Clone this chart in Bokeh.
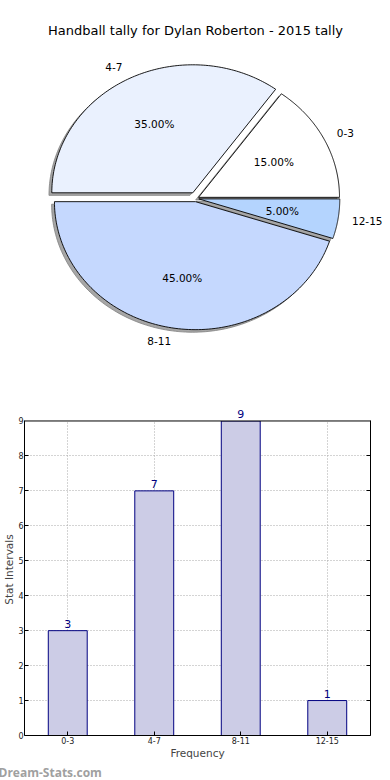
import numpy as np
from bokeh.plotting import figure
from bokeh.models import (Range1d, Label, LabelSet, ColumnDataSource, FactorRange,
                          LinearAxis, FixedTicker, Span, BoxAnnotation, Title)
from bokeh.embed import file_html
from bokeh.resources import INLINE
from bokeh.core.properties import value

# ---------------- data ----------------
chart_title = "Handball tally for Dylan Roberton - 2015 tally"
categories = ["0-3", "4-7", "8-11", "12-15"]
counts = [3, 7, 9, 1]
y_ticks = [0, 1, 2, 3, 4, 5, 6, 7, 8, 9]
y_max = 9
x_label = "Frequency"
y_label = "Stat Intervals"
watermark = "Dream-Stats.com"

# ---------------- styles ----------------
pie_colors = ["#ffffff", "#eaf1fe", "#c5d8fe", "#b4d4fe"]
explode = [0.02, 0.05, 0.025, 0.02]
FONT = "DejaVu Sans"

W = 388
PIE_H = 376
BAR_H = 404
CX, CY = 195.5, 198.0     # pie centre, pixels
RX, RY = 141.0, 128.0     # pie radii, pixels

# ---------------- pie ----------------
total = float(sum(counts))
fracs = [c / total for c in counts]
starts = np.concatenate([[0.0], np.cumsum(fracs)[:-1]]) * 2 * np.pi
ends = np.cumsum(fracs) * 2 * np.pi

xs, ys, sxs, sys_ = [], [], [], []
lab_x, lab_y, lab_align, pct_x, pct_y, pct_txt = [], [], [], [], [], []
for i in range(len(counts)):
    mid = 0.5 * (starts[i] + ends[i])
    ox, oy = explode[i] * np.cos(mid), explode[i] * np.sin(mid)
    t = np.linspace(starts[i], ends[i], 120)
    px = np.concatenate([[ox], ox + np.cos(t), [ox]])
    py = np.concatenate([[oy], oy + np.sin(t), [oy]])
    xs.append(list(px)); ys.append(list(py))
    sxs.append(list(px - 0.02)); sys_.append(list(py - 0.02))
    lab_x.append(ox + 1.1 * np.cos(mid)); lab_y.append(oy + 1.1 * np.sin(mid))
    lab_align.append("left" if np.cos(mid) > 0 else "right")
    pct_x.append(ox + 0.6 * np.cos(mid)); pct_y.append(oy + 0.6 * np.sin(mid))
    pct_txt.append("%.2f%%" % (100 * fracs[i]))

p1 = figure(width=W, height=PIE_H,
            x_range=Range1d((0 - CX) / RX, (W - CX) / RX),
            y_range=Range1d((CY - PIE_H) / RY, CY / RY),
            x_axis_location=None, y_axis_location=None,
            output_backend="svg", toolbar_location=None, min_border=0)
p1.grid.visible = False
p1.outline_line_color = None
p1.background_fill_color = "white"
p1.border_fill_color = "white"

p1.patches(sxs, sys_, fill_color="#a6a6a6", line_color="#808080", line_width=0.8)
p1.patches(xs, ys, fill_color=pie_colors, line_color="black", line_width=0.9)

lab_src = ColumnDataSource(dict(x=lab_x, y=lab_y, t=categories, a=lab_align))
p1.text(x="x", y="y", text="t", text_align="a", source=lab_src,
        text_baseline="middle", text_font=value(FONT), text_font_size="10.5px",
        text_color="black")
pct_src = ColumnDataSource(dict(x=pct_x, y=pct_y, t=pct_txt))
p1.text(x="x", y="y", text="t", source=pct_src, text_align="center",
        text_baseline="middle", text_font=value(FONT), text_font_size="10.5px",
        text_color="black")

p1.add_layout(Label(x=195, y=PIE_H - 30, x_units="screen", y_units="screen",
                    text=chart_title, text_align="center", text_baseline="middle",
                    text_font=FONT, text_font_size="13px", text_color="black"))

# ---------------- bar ----------------
p2 = figure(width=W, height=BAR_H,
            x_range=FactorRange(factors=categories, range_padding=0),
            y_range=Range1d(0, y_max + 0.5),
            output_backend="svg", toolbar_location=None,
            min_border_left=20, min_border_right=18,
            min_border_top=27, min_border_bottom=38)
p2.background_fill_color = "white"
p2.border_fill_color = "white"
p2.outline_line_color = None

for g in (p2.xgrid, p2.ygrid):
    g.grid_line_color = "#a8a8a8"
    g.grid_line_dash = "1 2"
    g.grid_line_width = 1
p2.ygrid.ticker = FixedTicker(ticks=y_ticks)

bar_src = ColumnDataSource(dict(cat=categories, count=counts,
                                lbl=[str(c) for c in counts]))
p2.vbar(x="cat", top="count", width=0.45, source=bar_src,
        fill_color="#ccccE6", line_color="#000080", line_width=1)

# blank the area above the top of the axes box, then draw its top edge
p2.add_layout(BoxAnnotation(bottom=y_max, fill_color="white", fill_alpha=1.0,
                            line_color=None))
p2.add_layout(Span(location=y_max, dimension="width", line_color="black",
                   line_width=1))

p2.add_layout(LabelSet(x="cat", y="count", text="lbl", source=bar_src,
                       y_offset=3, text_align="center", text_baseline="bottom",
                       text_font=value(FONT), text_font_size="11px",
                       text_color="#000080"))

p2.yaxis.ticker = FixedTicker(ticks=y_ticks)
p2.yaxis.bounds = (0, y_max)
for ax in (p2.xaxis[0], p2.yaxis[0]):
    ax.axis_line_color = "black"
    ax.major_tick_in = 4
    ax.major_tick_out = 0
    ax.minor_tick_line_color = None
    ax.major_tick_line_color = "black"
    ax.major_label_text_font = FONT
    ax.major_label_text_font_size = "8px"
    ax.major_label_text_color = "#222222"
    ax.major_label_standoff = 1
    ax.axis_label_text_font = FONT
    ax.axis_label_text_font_size = "10.5px"
    ax.axis_label_text_font_style = "normal"
    ax.axis_label_standoff = 0

p2.xaxis.axis_label = x_label
p2.yaxis.axis_label = y_label

right_ax = LinearAxis(ticker=FixedTicker(ticks=[], minor_ticks=y_ticks),
                      bounds=(0, y_max), axis_line_color="black",
                      major_tick_line_color=None,
                      minor_tick_in=4, minor_tick_out=0,
                      minor_tick_line_color="black")
p2.add_layout(right_ax, "right")

p2.add_layout(Title(text=watermark, align="left", offset=-26, standoff=0,
                    text_font="Open Sans", text_font_size="12px",
                    text_font_style="bold", text_color="#a0a0a0"), "below")

open("out.html", "w").write(file_html([p1, p2], INLINE))
